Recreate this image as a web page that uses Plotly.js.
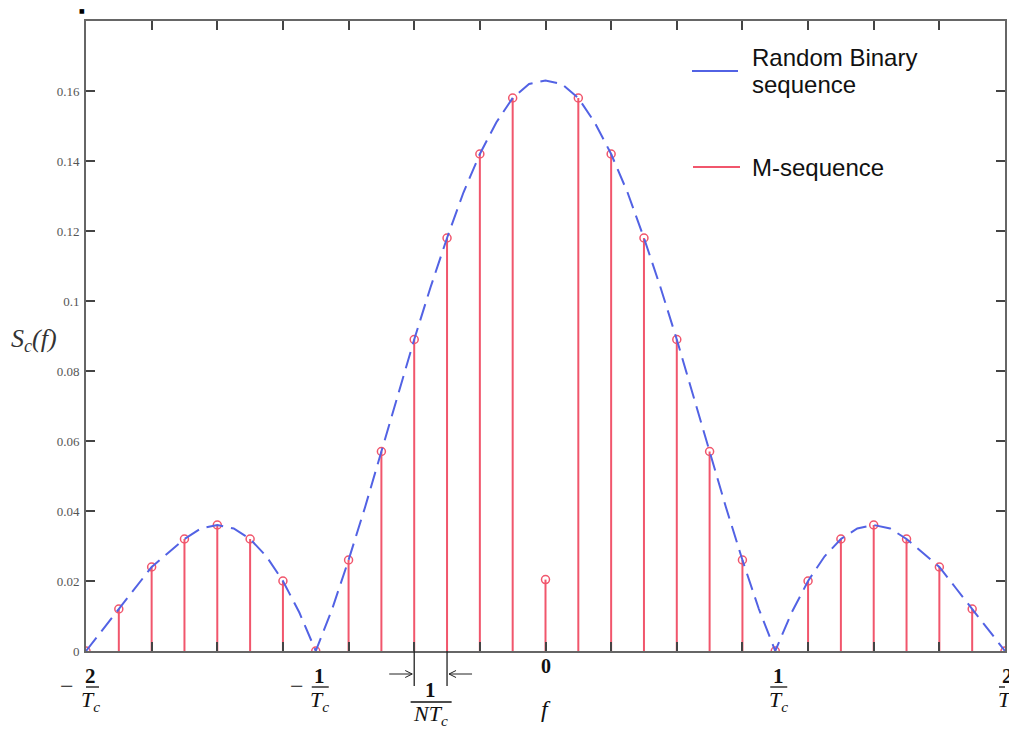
<!DOCTYPE html>
<html>
<head>
<meta charset="utf-8">
<script src="https://cdn.plot.ly/plotly-3.0.1.min.js"></script>
<style>html,body{margin:0;padding:0;background:#fff;}#chart{width:1009px;height:729px;}</style>
</head>
<body>
<div id="chart"></div>
<script>
// Frequency axis in units of 1/(N*Tc), N = 7 chips per period
const seqLength = 7;

// Random binary sequence envelope (dashed curve)
const curveK = [-14,-13.5,-13,-12.5,-12,-11.5,-11,-10.5,-10,-9.5,-9,-8.5,-8,-7.5,-7,-6.5,-6,-5.5,-5,-4.5,-4,-3.5,-3,-2.5,-2,-1.5,-1,-0.5,
                0,0.5,1,1.5,2,2.5,3,3.5,4,4.5,5,5.5,6,6.5,7,7.5,8,8.5,9,9.5,10,10.5,11,11.5,12,12.5,13,13.5,14];
const curveS = [0,0.006,0.012,0.018,0.024,0.028,0.032,0.035,0.036,0.035,0.032,0.027,0.020,0.011,0,0.012,0.026,0.041,0.057,0.073,0.089,0.104,0.118,0.131,0.142,0.151,0.158,0.162,
                0.163,0.162,0.158,0.151,0.142,0.131,0.118,0.104,0.089,0.073,0.057,0.041,0.026,0.012,0,0.011,0.020,0.027,0.032,0.035,0.036,0.035,0.032,0.028,0.024,0.018,0.012,0.006,0];

// M-sequence line spectrum (stems)
const stemK = [-14,-13,-12,-11,-10,-9,-8,-7,-6,-5,-4,-3,-2,-1,0,1,2,3,4,5,6,7,8,9,10,11,12,13,14];
const stemS = [0,0.012,0.024,0.032,0.036,0.032,0.020,0,0.026,0.057,0.089,0.118,0.142,0.158,0.0204,0.158,0.142,0.118,0.089,0.057,0.026,0,0.020,0.032,0.036,0.032,0.024,0.012,0];

const yTicks = [0,0.02,0.04,0.06,0.08,0.1,0.12,0.14,0.16];
const yTickText = ['0','0.02','0.04','0.06','0.08','0.1','0.12','0.14','0.16'];
const xTicks = [-14,-12,-10,-8,-6,-4,-2,0,2,4,6,8,10,12,14];

const legendLines = [['Random Binary', 'sequence'], ['M-sequence']];

const BLUE = '#5262e4';
const RED = '#f1566c';

const stemX = [], stemY = [];
stemK.forEach((k, i) => { stemX.push(k, k, null); stemY.push(0, stemS[i], null); });

const traces = [
  {x: stemX, y: stemY, mode: 'lines', line: {color: RED, width: 2}, hoverinfo: 'skip', showlegend: false},
  {x: stemK, y: stemS, mode: 'markers', marker: {symbol: 'circle-open', size: 8, color: RED, line: {width: 1.5, color: RED}}, showlegend: false},
  {x: curveK, y: curveS, mode: 'lines', line: {color: BLUE, width: 2, dash: '17px,8px'}, showlegend: false}
];

const serif = 'Liberation Serif, Times New Roman, serif';
const sans = 'Liberation Sans, Arial, sans-serif';
const annotations = [];
const shapes = [];

function fracLabel(k, dx, num, den, withMinus) {
  annotations.push({xref: 'x', yref: 'paper', x: k, y: 0, xshift: dx, yshift: -25, text: num, showarrow: false,
    font: {family: serif, size: 21, color: '#111', weight: 'bold'}, xanchor: 'center', yanchor: 'middle'});
  annotations.push({xref: 'x', yref: 'paper', x: k, y: 0, xshift: dx, yshift: -50, text: den, showarrow: false,
    font: {family: serif, size: 22, color: '#111'}, xanchor: 'center', yanchor: 'middle'});
  shapes.push({type: 'line', xref: 'x', yref: 'paper', xsizemode: 'pixel', ysizemode: 'pixel', xanchor: k, yanchor: 0,
    x0: dx - 8, x1: dx + 9, y0: -36, y1: -36, line: {color: '#111', width: 1.3}});
  if (withMinus) {
    annotations.push({xref: 'x', yref: 'paper', x: k, y: 0, xshift: dx - 23, yshift: -35, text: '\u2212', showarrow: false,
      font: {family: serif, size: 24, color: '#111'}, xanchor: 'center', yanchor: 'middle'});
  }
}
const Tc = '<i>T<sub>c</sub></i>';
fracLabel(-14, 4, '2', Tc, true);
fracLabel(-7, 4, '1', Tc, true);
fracLabel(7, 3, '1', Tc, false);
fracLabel(14, 2, '2', Tc, false);

// 1/(N Tc) spacing marker
annotations.push({xref: 'x', yref: 'paper', x: -3.5, y: 0, xshift: 0, yshift: -39, text: '1', showarrow: false,
  font: {family: serif, size: 21, color: '#111', weight: 'bold'}, xanchor: 'center', yanchor: 'middle'});
annotations.push({xref: 'x', yref: 'paper', x: -3.5, y: 0, xshift: 0, yshift: -64, text: '<i>NT<sub>c</sub></i>', showarrow: false,
  font: {family: serif, size: 22, color: '#111'}, xanchor: 'center', yanchor: 'middle'});
shapes.push({type: 'line', xref: 'x', yref: 'paper', xsizemode: 'pixel', ysizemode: 'pixel', xanchor: -3.5, yanchor: 0,
  x0: -20, x1: 21, y0: -51, y1: -51, line: {color: '#111', width: 1.3}});
[-4, -3].forEach(k => shapes.push({type: 'line', xref: 'x', yref: 'paper', ysizemode: 'pixel', yanchor: 0,
  x0: k, x1: k, y0: 0, y1: -35, line: {color: '#222', width: 1.3}}));
// arrows pointing at the two stems
shapes.push({type: 'path', xref: 'x', yref: 'paper', xsizemode: 'pixel', ysizemode: 'pixel', xanchor: -4, yanchor: 0,
  path: 'M-25,-23 L-2,-23 M-9,-19.5 L-2,-23 L-9,-26.5', line: {color: '#222', width: 1}});
shapes.push({type: 'path', xref: 'x', yref: 'paper', xsizemode: 'pixel', ysizemode: 'pixel', xanchor: -3, yanchor: 0,
  path: 'M25,-23 L2,-23 M9,-19.5 L2,-23 L9,-26.5', line: {color: '#222', width: 1}});

// 0 and f
annotations.push({xref: 'x', yref: 'paper', x: 0, y: 0, yshift: -15, text: '0', showarrow: false,
  font: {family: serif, size: 20, color: '#111', weight: 'bold'}, xanchor: 'center', yanchor: 'middle'});
annotations.push({xref: 'x', yref: 'paper', x: 0, y: 0, yshift: -58, text: '<i>f</i>', showarrow: false,
  font: {family: serif, size: 24, color: '#111'}, xanchor: 'center', yanchor: 'middle'});

// y-axis title
annotations.push({xref: 'paper', yref: 'paper', x: 0, y: (651 - 340) / 630, xshift: -52, text: '<i>S<sub>c</sub>(f)</i>', showarrow: false,
  font: {family: serif, size: 26, color: '#333'}, xanchor: 'center', yanchor: 'middle'});

// stray dot at top-left
annotations.push({xref: 'paper', yref: 'paper', x: 0, y: 1, xshift: -4, yshift: 11, text: '\u25A0', showarrow: false,
  font: {family: 'DejaVu Sans, sans-serif', size: 6, color: '#000'}, xanchor: 'center', yanchor: 'middle'});

// legend (drawn manually)
const px2x = px => (px - 86) / 919;
const px2y = py => (651 - py) / 630;
shapes.push({type: 'line', xref: 'paper', yref: 'paper', x0: px2x(692), x1: px2x(738), y0: px2y(71), y1: px2y(71), line: {color: BLUE, width: 2}});
shapes.push({type: 'line', xref: 'paper', yref: 'paper', x0: px2x(693), x1: px2x(740), y0: px2y(167), y1: px2y(167), line: {color: RED, width: 2}});
const legendY = [[57, 85], [168]];
legendLines.forEach((lines, i) => lines.forEach((t, j) => {
  annotations.push({xref: 'paper', yref: 'paper', x: px2x(750), y: px2y(legendY[i][j]), text: t, showarrow: false, align: 'left',
    font: {family: sans, size: 24, color: '#111'}, xanchor: 'left', yanchor: 'middle'});
}));

const layout = {
  width: 1009, height: 729,
  margin: {l: 86, r: 4, t: 21, b: 78},
  paper_bgcolor: '#fff', plot_bgcolor: '#fff',
  showlegend: false,
  xaxis: {range: [-14, 14], tickvals: xTicks, showticklabels: false, ticks: 'inside', ticklen: 9, tickwidth: 2, tickcolor: '#444',
    showline: true, linecolor: '#666', linewidth: 2, mirror: 'ticks', showgrid: false, zeroline: false, fixedrange: true},
  yaxis: {range: [0, 0.18], tickvals: yTicks, ticktext: yTickText, ticks: 'inside', ticklen: 9, tickwidth: 2, tickcolor: '#444',
    showline: true, linecolor: '#666', linewidth: 2, mirror: 'ticks', showgrid: false, zeroline: false, fixedrange: true,
    tickfont: {family: serif, size: 13, color: '#555'}, ticklabelstandoff: 2},
  annotations: annotations,
  shapes: shapes
};

Plotly.newPlot('chart', traces, layout, {displayModeBar: false, staticPlot: true});
</script>
</body>
</html>
